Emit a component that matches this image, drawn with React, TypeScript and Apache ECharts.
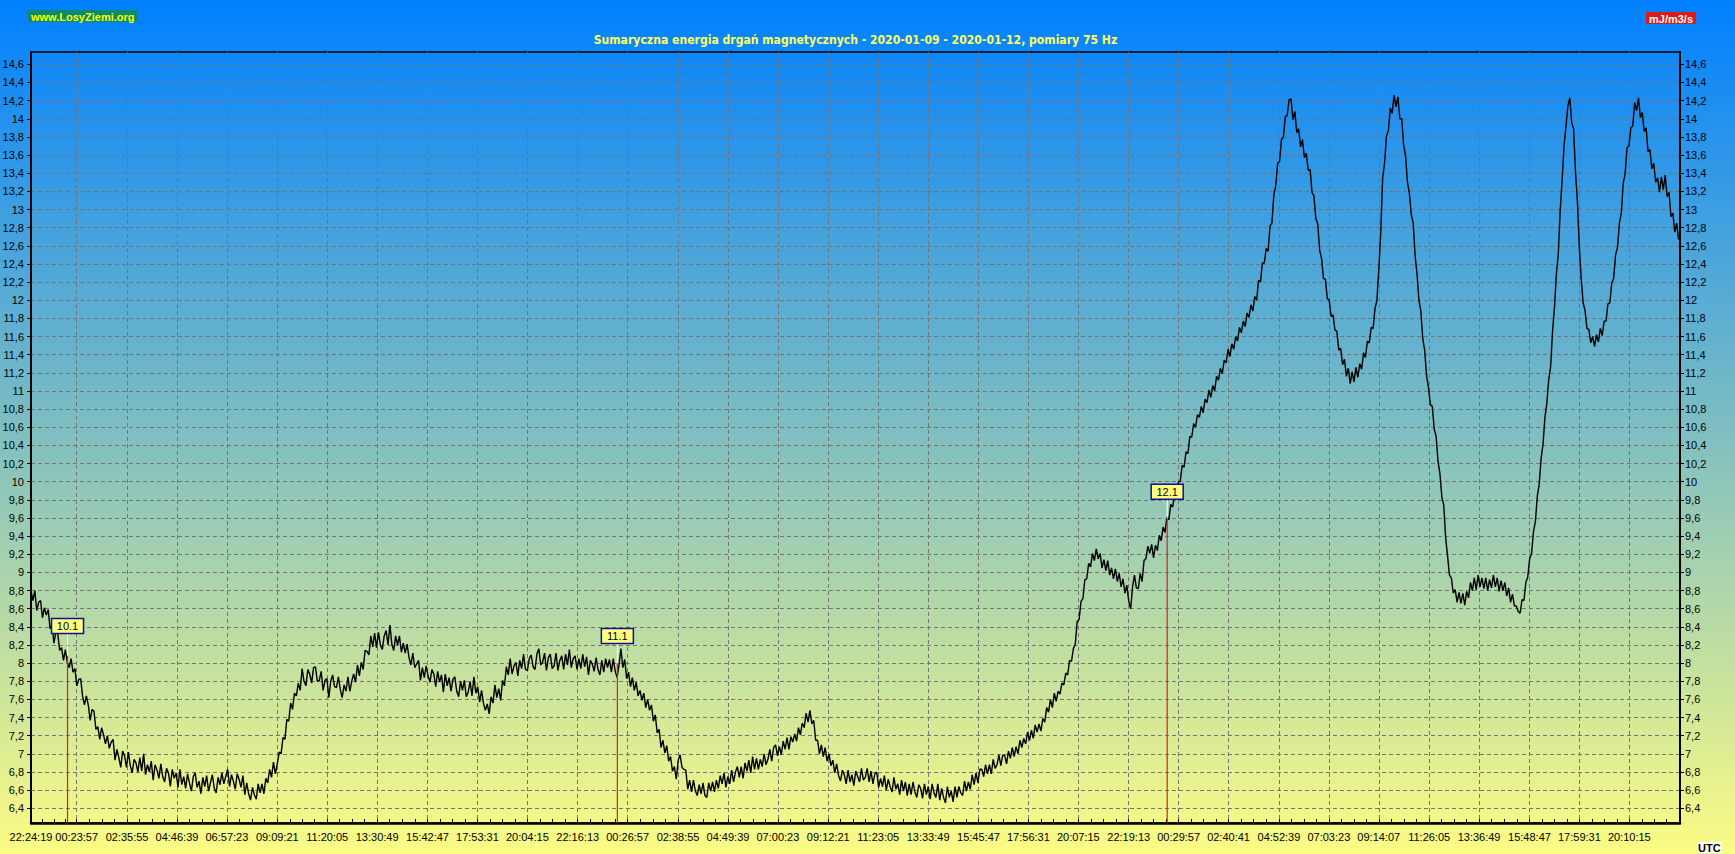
import React, { useEffect, useRef } from 'react';
import * as echarts from 'echarts';

const TITLE = 'Sumaryczna energia drgań magnetycznych - 2020-01-09 - 2020-01-12, pomiary 75 Hz';
const SITE = 'www.LosyZiemi.org';
const UNIT = 'mJ/m3/s';
const TZ = 'UTC';

const startTime = '2020-01-09T22:24:19Z';
const endTime = '2020-01-12T22:23:03Z';
const stepMinutes = 5;

const xTickTimes = [
  '2020-01-09T22:24:19Z', '2020-01-10T00:23:57Z', '2020-01-10T02:35:55Z', '2020-01-10T04:46:39Z',
  '2020-01-10T06:57:23Z', '2020-01-10T09:09:21Z', '2020-01-10T11:20:05Z', '2020-01-10T13:30:49Z',
  '2020-01-10T15:42:47Z', '2020-01-10T17:53:31Z', '2020-01-10T20:04:15Z', '2020-01-10T22:16:13Z',
  '2020-01-11T00:26:57Z', '2020-01-11T02:38:55Z', '2020-01-11T04:49:39Z', '2020-01-11T07:00:23Z',
  '2020-01-11T09:12:21Z', '2020-01-11T11:23:05Z', '2020-01-11T13:33:49Z', '2020-01-11T15:45:47Z',
  '2020-01-11T17:56:31Z', '2020-01-11T20:07:15Z', '2020-01-11T22:19:13Z', '2020-01-12T00:29:57Z',
  '2020-01-12T02:40:41Z', '2020-01-12T04:52:39Z', '2020-01-12T07:03:23Z', '2020-01-12T09:14:07Z',
  '2020-01-12T11:26:05Z', '2020-01-12T13:36:49Z', '2020-01-12T15:48:47Z', '2020-01-12T17:59:31Z',
  '2020-01-12T20:10:15Z',
];

const yMin = 6.238;
const yMax = 14.736;
const yTicks = [
  6.4, 6.6, 6.8, 7, 7.2, 7.4, 7.6, 7.8, 8, 8.2, 8.4, 8.6, 8.8, 9, 9.2, 9.4, 9.6, 9.8, 10, 10.2, 10.4,
  10.6, 10.8, 11, 11.2, 11.4, 11.6, 11.8, 12, 12.2, 12.4, 12.6, 12.8, 13, 13.2, 13.4, 13.6, 13.8, 14,
  14.2, 14.4, 14.6,
];

// energy values, one every 5 minutes from startTime
const energy = [
  8.80, 8.69, 8.80, 8.58, 8.67, 8.69, 8.50, 8.61, 8.53, 8.59, 8.38, 8.43, 8.22, 8.34, 8.33, 8.14, 8.17, 8.03, 8.15, 8.01,
  7.95, 8.05, 7.90, 7.94, 7.75, 7.82, 7.83, 7.64, 7.54, 7.64, 7.54, 7.37, 7.49, 7.47, 7.27, 7.30, 7.16, 7.29, 7.21, 7.11,
  7.20, 7.06, 7.13, 7.16, 6.93, 7.05, 6.96, 6.85, 7.03, 6.98, 6.85, 7.02, 6.87, 6.79, 6.94, 6.90, 6.80, 6.96, 6.81, 7.00,
  6.77, 6.88, 6.80, 6.92, 6.71, 6.88, 6.82, 6.73, 6.89, 6.75, 6.69, 6.84, 6.79, 6.64, 6.83, 6.73, 6.79, 6.63, 6.83, 6.66,
  6.75, 6.62, 6.78, 6.68, 6.59, 6.75, 6.79, 6.63, 6.70, 6.56, 6.74, 6.64, 6.76, 6.59, 6.68, 6.77, 6.62, 6.57, 6.74, 6.66,
  6.79, 6.67, 6.75, 6.83, 6.64, 6.77, 6.70, 6.61, 6.78, 6.72, 6.63, 6.76, 6.55, 6.68, 6.56, 6.49, 6.63, 6.55, 6.50, 6.67,
  6.57, 6.67, 6.56, 6.73, 6.68, 6.83, 6.74, 6.91, 6.78, 6.89, 7.02, 7.00, 7.18, 7.16, 7.38, 7.36, 7.56, 7.49, 7.67, 7.64,
  7.78, 7.70, 7.94, 7.80, 7.75, 7.93, 7.88, 7.78, 7.95, 7.96, 7.80, 7.81, 7.91, 7.70, 7.81, 7.83, 7.62, 7.80, 7.87, 7.74,
  7.73, 7.85, 7.71, 7.62, 7.76, 7.69, 7.85, 7.69, 7.80, 7.88, 7.79, 7.98, 7.86, 8.01, 7.93, 8.14, 8.13, 8.09, 8.30, 8.18,
  8.33, 8.17, 8.34, 8.20, 8.15, 8.30, 8.36, 8.20, 8.42, 8.21, 8.14, 8.30, 8.20, 8.30, 8.12, 8.22, 8.11, 8.21, 8.06, 7.98,
  8.11, 7.95, 7.99, 8.03, 7.81, 7.95, 7.84, 7.97, 7.86, 7.79, 7.93, 7.88, 7.74, 7.91, 7.79, 7.87, 7.68, 7.88, 7.75, 7.84,
  7.69, 7.82, 7.85, 7.69, 7.63, 7.80, 7.70, 7.81, 7.63, 7.68, 7.80, 7.64, 7.85, 7.67, 7.74, 7.57, 7.70, 7.56, 7.48, 7.55,
  7.44, 7.63, 7.56, 7.76, 7.62, 7.72, 7.59, 7.81, 7.75, 7.96, 7.87, 8.05, 7.88, 7.97, 8.01, 7.86, 8.03, 7.94, 8.10, 7.93,
  7.92, 8.05, 8.09, 7.96, 7.93, 8.10, 8.16, 7.98, 8.01, 8.11, 7.92, 8.06, 8.10, 7.94, 7.97, 8.11, 7.92, 8.03, 8.08, 7.93,
  8.10, 7.98, 8.15, 7.95, 8.05, 8.08, 7.93, 8.05, 7.94, 8.10, 7.96, 8.07, 7.87, 8.03, 7.99, 7.91, 8.06, 7.93, 7.87, 8.03,
  7.90, 8.05, 7.95, 8.04, 7.90, 8.05, 7.91, 7.84, 7.98, 8.16, 7.95, 8.04, 7.83, 7.90, 7.74, 7.84, 7.70, 7.79, 7.64, 7.70,
  7.59, 7.67, 7.51, 7.60, 7.48, 7.54, 7.36, 7.43, 7.23, 7.27, 7.07, 7.15, 7.01, 7.09, 6.92, 6.97, 6.81, 6.86, 6.72, 6.93,
  6.99, 6.85, 6.83, 6.82, 6.61, 6.71, 6.58, 6.71, 6.59, 6.54, 6.66, 6.56, 6.68, 6.54, 6.52, 6.68, 6.59, 6.69, 6.58, 6.71,
  6.62, 6.76, 6.67, 6.79, 6.63, 6.75, 6.67, 6.82, 6.69, 6.80, 6.86, 6.74, 6.86, 6.73, 6.90, 6.81, 6.93, 6.79, 6.97, 6.83,
  6.95, 6.83, 6.94, 6.86, 7.00, 6.88, 6.94, 7.05, 6.92, 7.07, 7.10, 6.98, 7.08, 6.99, 7.14, 7.05, 7.18, 7.05, 7.19, 7.13,
  7.22, 7.14, 7.29, 7.21, 7.34, 7.29, 7.45, 7.35, 7.48, 7.33, 7.37, 7.15, 7.15, 7.00, 7.10, 6.97, 7.07, 6.92, 7.00, 6.87,
  6.93, 6.79, 6.89, 6.76, 6.70, 6.82, 6.77, 6.67, 6.82, 6.69, 6.77, 6.65, 6.81, 6.75, 6.69, 6.84, 6.71, 6.74, 6.84, 6.69,
  6.81, 6.67, 6.78, 6.80, 6.63, 6.73, 6.64, 6.76, 6.60, 6.72, 6.64, 6.58, 6.74, 6.61, 6.67, 6.55, 6.71, 6.59, 6.69, 6.54,
  6.67, 6.55, 6.69, 6.58, 6.52, 6.66, 6.62, 6.51, 6.67, 6.55, 6.64, 6.50, 6.67, 6.57, 6.52, 6.67, 6.49, 6.62, 6.52, 6.46,
  6.64, 6.52, 6.59, 6.47, 6.64, 6.52, 6.64, 6.57, 6.54, 6.70, 6.59, 6.69, 6.61, 6.77, 6.66, 6.79, 6.68, 6.83, 6.83, 6.75,
  6.88, 6.78, 6.88, 6.78, 6.94, 6.84, 6.88, 6.99, 6.87, 6.99, 6.98, 6.89, 7.03, 6.95, 7.07, 6.97, 7.08, 7.00, 7.15, 7.07,
  7.17, 7.11, 7.24, 7.15, 7.26, 7.17, 7.32, 7.24, 7.33, 7.25, 7.39, 7.35, 7.51, 7.46, 7.60, 7.51, 7.67, 7.58, 7.69, 7.66,
  7.78, 7.76, 7.89, 7.87, 8.03, 8.02, 8.16, 8.21, 8.46, 8.48, 8.68, 8.71, 8.92, 8.93, 9.10, 9.06, 9.21, 9.13, 9.26, 9.15,
  9.21, 9.05, 9.14, 9.02, 9.13, 8.97, 9.05, 8.93, 9.04, 8.90, 8.99, 8.84, 8.93, 8.77, 8.86, 8.68, 8.60, 8.84, 8.97, 8.83,
  8.82, 8.99, 8.90, 9.13, 9.15, 9.29, 9.21, 9.31, 9.16, 9.30, 9.24, 9.41, 9.35, 9.50, 9.44, 9.61, 9.58, 9.75, 9.72, 9.85,
  9.80, 9.99, 10.01, 10.18, 10.16, 10.33, 10.31, 10.50, 10.49, 10.64, 10.60, 10.74, 10.71, 10.83, 10.76, 10.91, 10.87, 11.01, 10.93, 11.06,
  11.00, 11.16, 11.12, 11.25, 11.19, 11.34, 11.31, 11.46, 11.38, 11.52, 11.46, 11.60, 11.55, 11.70, 11.64, 11.77, 11.71, 11.86, 11.81, 11.95,
  11.88, 12.04, 12.00, 12.22, 12.20, 12.41, 12.41, 12.57, 12.54, 12.82, 12.85, 13.16, 13.26, 13.51, 13.53, 13.77, 13.80, 14.02, 14.04, 14.21,
  14.22, 13.99, 14.08, 13.85, 13.89, 13.69, 13.77, 13.57, 13.62, 13.43, 13.44, 13.19, 13.15, 12.90, 12.84, 12.55, 12.46, 12.24, 12.23, 12.02,
  12.00, 11.82, 11.84, 11.67, 11.66, 11.45, 11.47, 11.29, 11.35, 11.16, 11.25, 11.08, 11.21, 11.10, 11.26, 11.15, 11.30, 11.24, 11.42, 11.37,
  11.55, 11.53, 11.70, 11.69, 11.91, 12.00, 12.35, 12.74, 13.35, 13.51, 13.81, 13.87, 14.12, 14.06, 14.26, 14.13, 14.24, 14.00, 14.00, 13.71,
  13.59, 13.30, 13.18, 12.94, 12.85, 12.49, 12.29, 12.00, 11.88, 11.58, 11.45, 11.17, 11.04, 10.85, 10.83, 10.58, 10.50, 10.22, 10.09, 9.83,
  9.74, 9.38, 9.18, 8.97, 8.94, 8.77, 8.81, 8.67, 8.78, 8.66, 8.77, 8.64, 8.79, 8.72, 8.89, 8.80, 8.94, 8.81, 8.97, 8.84,
  8.94, 8.82, 8.94, 8.80, 8.92, 8.83, 8.97, 8.84, 8.94, 8.79, 8.91, 8.80, 8.89, 8.74, 8.83, 8.67, 8.76, 8.63, 8.63, 8.57,
  8.55, 8.70, 8.69, 8.89, 8.95, 9.15, 9.21, 9.45, 9.56, 9.84, 9.97, 10.26, 10.41, 10.71, 10.86, 11.13, 11.27, 11.66, 11.92, 12.29,
  12.51, 12.99, 13.32, 13.70, 13.91, 14.14, 14.23, 13.96, 13.89, 13.42, 13.09, 12.59, 12.24, 11.97, 11.89, 11.69, 11.68, 11.53, 11.60, 11.49,
  11.62, 11.54, 11.69, 11.61, 11.77, 11.77, 11.96, 11.97, 12.19, 12.24, 12.50, 12.58, 12.85, 12.96, 13.29, 13.39, 13.68, 13.70, 13.90, 13.92,
  14.18, 14.09, 14.23, 14.01, 14.07, 13.86, 13.90, 13.64, 13.66, 13.45, 13.51, 13.30, 13.35, 13.19, 13.36, 13.22, 13.38, 13.14, 13.19, 12.92, 12.96, 12.75, 12.85, 12.67,
];

// day markers
const markerTimes = ['2020-01-10T00:00:00Z', '2020-01-11T00:00:00Z', '2020-01-12T00:00:00Z'];
const markerLabels = ['10.1', '11.1', '12.1'];
const markerCurve = [8.08, 8.0, 9.59];
const markerBox = [8.41, 8.3, 9.89];

const FONT = '"Liberation Sans", Arial, Helvetica, sans-serif';
const NARROW = '"Liberation Sans Narrow", "DejaVu Sans Condensed", "Liberation Sans", Arial, sans-serif';

const pad2 = (n: number) => (n < 10 ? '0' : '') + n;
const fmtTime = (v: number) => {
  const d = new Date(v);
  return pad2(d.getUTCHours()) + ':' + pad2(d.getUTCMinutes()) + ':' + pad2(d.getUTCSeconds());
};
const fmtNum = (v: number) => String(Math.round(v * 10) / 10).replace('.', ',');

export default function App() {
  const ref = useRef<HTMLDivElement>(null);

  useEffect(() => {
    if (!ref.current) return;
    const chart = echarts.init(ref.current, null, { renderer: 'svg' });
    const t0 = Date.parse(startTime);
    const tMin = t0;
    const tMax = Date.parse(endTime);
    const step = stepMinutes * 60 * 1000;
    const xTicks = xTickTimes.map((s) => Date.parse(s));
    const minorTicks: number[] = [];
    for (let k = 0; k < xTicks.length; k++) {
      const a = xTicks[k];
      const span = k + 1 < xTicks.length ? xTicks[k + 1] - a : xTicks[k] - xTicks[k - 1];
      for (let j = 0; j < 4; j++) {
        const v = a + (span * j) / 4;
        if (v <= tMax) minorTicks.push(v);
      }
    }
    const lineData = energy.map((v, i) => [t0 + i * step, v]);
    const markerData = markerTimes.map((s, i) => [Date.parse(s), markerCurve[i], markerBox[i]]);

    const gridLine = { show: true, lineStyle: { color: '#747474', type: [4, 3] as any, width: 1 } };

    chart.setOption({
      animation: false,
      backgroundColor: 'transparent',
      grid: {
        left: 31, top: 52, right: 55, bottom: 31,
        show: true, borderColor: '#000', borderWidth: 1.5,
        outerBoundsMode: 'none',
      } as any,
      xAxis: [
        {
          type: 'value', min: tMin, max: tMax, position: 'bottom',
          axisLine: { show: true, onZero: false, lineStyle: { color: '#000', width: 2.5 } },
          axisTick: { show: false, customValues: xTicks },
          axisLabel: {
            customValues: xTicks, formatter: fmtTime, color: '#000', fontSize: 11,
            fontFamily: FONT, margin: 8, showMinLabel: true, showMaxLabel: true,
          },
          splitLine: gridLine,
        },
        {
          type: 'value', min: tMin, max: tMax, position: 'bottom',
          axisLine: { show: false },
          axisTick: { show: true, inside: true, length: 4, customValues: minorTicks, lineStyle: { color: '#000', width: 1 } },
          axisLabel: { show: false },
          splitLine: { show: false },
        },
      ],
      yAxis: [
        {
          type: 'value', min: yMin, max: yMax, position: 'left',
          axisLine: { show: true, onZero: false, lineStyle: { color: '#000', width: 2 } },
          axisTick: { show: true, length: 4, customValues: yTicks, lineStyle: { color: '#000' } },
          axisLabel: { customValues: yTicks, formatter: fmtNum, color: '#000', fontSize: 11, fontFamily: FONT, margin: 7 },
          splitLine: gridLine,
        },
        {
          type: 'value', min: yMin, max: yMax, position: 'right',
          axisLine: { show: true, onZero: false, lineStyle: { color: '#000', width: 2 } },
          axisTick: { show: true, length: 4, customValues: yTicks, lineStyle: { color: '#000' } },
          axisLabel: { customValues: yTicks, formatter: fmtNum, color: '#000', fontSize: 11, fontFamily: FONT, margin: 5 },
          splitLine: { show: false },
        },
      ],
      series: [
        {
          type: 'line',
          xAxisIndex: 0,
          yAxisIndex: 0,
          data: lineData,
          showSymbol: false,
          symbol: 'none',
          lineStyle: { color: '#000', width: 1.4 },
          z: 3,
        },
        {
          type: 'custom',
          xAxisIndex: 0,
          yAxisIndex: 0,
          dimensions: ['t', 'curve', 'box'],
          encode: { x: 't', y: 'curve' },
          data: markerData,
          z: 5,
          renderItem: (params: any, api: any) => {
            const t = api.value(0);
            const top = api.coord([t, api.value(1)]);
            const bottom = api.coord([t, yMin]);
            const box = api.coord([t, api.value(2)]);
            const w = 32;
            const h = 15;
            return {
              type: 'group',
              children: [
                { type: 'line', shape: { x1: top[0], y1: box[1] + h / 2, x2: top[0], y2: top[1] }, style: { stroke: '#ffffff', lineWidth: 1 } },
                { type: 'line', shape: { x1: bottom[0], y1: bottom[1], x2: top[0], y2: top[1] }, style: { stroke: '#d82020', lineWidth: 1.2 } },
                { type: 'rect', shape: { x: box[0] - w / 2, y: box[1] - h / 2, width: w, height: h }, style: { fill: '#ffff80', stroke: '#101090', lineWidth: 1.5 } },
                {
                  type: 'text', x: box[0], y: box[1] + 0.5,
                  style: { text: markerLabels[params.dataIndex], fill: '#000', font: '11px ' + FONT, align: 'center', verticalAlign: 'middle' },
                },
              ],
            };
          },
        },
      ],
      graphic: [
        {
          type: 'text', x: 855.5, y: 39, scaleX: 0.93,
          style: { text: TITLE, fill: '#ffff60', font: 'bold 13px ' + NARROW, align: 'center', verticalAlign: 'middle' },
        },
        {
          type: 'text', x: 28, y: 10,
          style: { text: SITE, fill: '#ffff00', font: 'bold 11px ' + FONT, backgroundColor: '#0c8a6e', padding: [1, 3, 0, 3], align: 'left', verticalAlign: 'top' },
        },
        {
          type: 'text', x: 1646, y: 12,
          style: { text: UNIT, fill: '#ffffff', font: 'bold 11px ' + FONT, backgroundColor: '#dc1a1a', padding: [1, 3, 0, 3], align: 'left', verticalAlign: 'top' },
        },
        {
          type: 'text', x: 1697, y: 842,
          style: { text: TZ, fill: '#000', font: 'bold 11px ' + FONT, backgroundColor: '#ffffff', padding: [0, 1, 0, 1], align: 'left', verticalAlign: 'top' },
        },
      ],
    });
    return () => chart.dispose();
  }, []);

  return (
    <div
      ref={ref}
      style={{
        position: 'absolute', left: 0, top: 0, width: 1735, height: 854,
        background: 'linear-gradient(to bottom, #0080ff 0%, #fcfc84 100%)',
      }}
    />
  );
}
